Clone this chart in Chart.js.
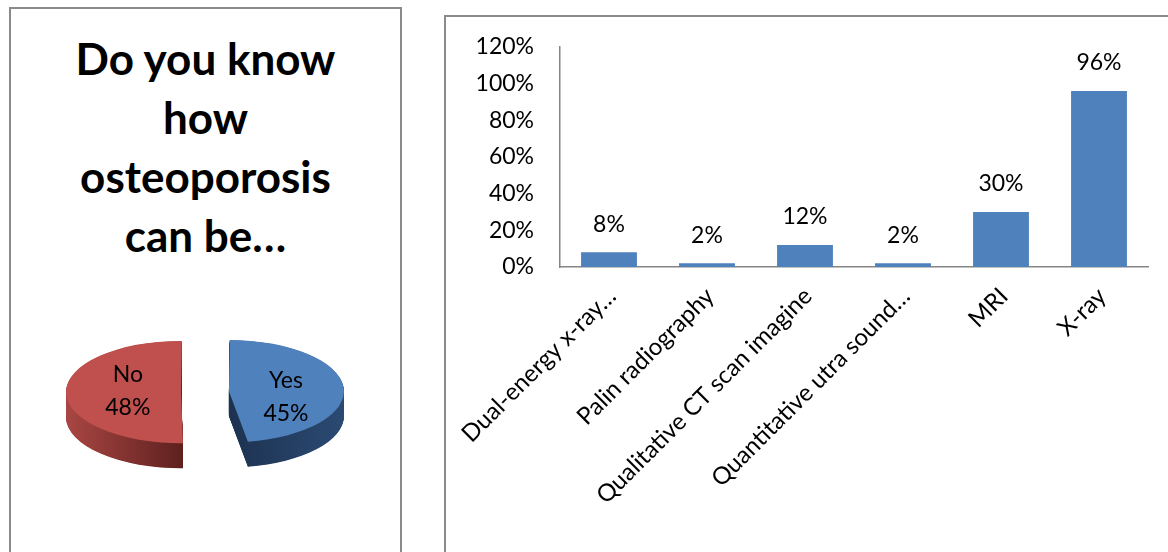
<!DOCTYPE html>
<html>
<head>
<meta charset="utf-8">
<script src="https://cdn.jsdelivr.net/npm/chart.js@4.4.1/dist/chart.umd.min.js"></script>
<style>
  html, body { margin: 0; padding: 0; background: #fff; width: 1168px; height: 552px; overflow: hidden; font-family: Lato, sans-serif; }
  .panel { position: absolute; border: 2px solid #8a8a8a; background: #fff; box-sizing: border-box; }
  #left { left: 9px; top: 7px; width: 393px; height: 620px; }
  #right { left: 444px; top: 15px; width: 800px; height: 620px; }
  #title { position: absolute; left: 9px; width: 393px; top: 29px; text-align: center; font-weight: 700; font-size: 44px; line-height: 59px; color: #000; }
  #pie { position: absolute; left: 10px; top: 262px; }
  #bar { position: absolute; left: 446px; top: 17px; }
</style>
</head>
<body>
<div class="panel" id="left"></div>
<div class="panel" id="right"></div>
<div id="title">Do you know<br>how<br>osteoporosis<br>can be…</div>
<canvas id="pie" width="390" height="260"></canvas>
<canvas id="bar" width="722" height="535"></canvas>
<script>
// Pie: answers to "Do you know how osteoporosis can be…" (%)
const pieLabels = ['No', 'Yes'];
const pieValues = [48, 45];

// Bars: diagnostic methods named by respondents (%)
const barCategories = [
  'Dual-energy x-ray…',
  'Palin radiography',
  'Qualitative CT scan imagine',
  'Quantitative utra sound…',
  'MRI',
  'X-ray'
];
const barValues = [8, 2, 12, 2, 30, 96];
const yTickMax = 120;
const yTickStep = 20;

const FONT = 'Lato, sans-serif';
const TILT = 0.445;   // vertical squash of the pie disc
const DEPTH = 25;     // thickness of the pie in pixels
const EXPLODE = 24;   // how far each slice is pulled out

const pieFill = ['#C0504D', '#4F81BD'];
const pieWall = [['#A94643', '#5F211F'], ['#1D3250', '#2B4A72']];

// the pie is drawn as an exploded, tilted disc with a visible rim
const pie3d = {
  id: 'pie3d',
  beforeDatasetDraw(chart, args) {
    const ctx = chart.ctx;
    const arcs = args.meta.data;
    const cx = arcs[0].x, cy = arcs[0].y;
    const shift = arcs.map(a => {
      const h = (a.startAngle + a.endAngle) / 2;
      return { dx: Math.cos(h) * EXPLODE, dy: Math.sin(h) * EXPLODE, h };
    });

    ctx.save();
    ctx.translate(cx, cy);
    ctx.scale(1, TILT);
    ctx.translate(-cx, -cy);

    // rims
    arcs.forEach((arc, i) => {
      const w = pieWall[i];
      const x = arc.x + shift[i].dx, y = arc.y + shift[i].dy, r = arc.outerRadius;
      const toRight = Math.cos(shift[i].h) > 0;
      const grad = toRight
        ? ctx.createLinearGradient(x, 0, x + r, 0)
        : ctx.createLinearGradient(x - r, 0, x, 0);
      grad.addColorStop(0, w[0]);
      grad.addColorStop(1, w[1]);
      ctx.fillStyle = grad;
      for (let d = DEPTH; d > 0; d -= 0.5) {
        const oy = y + d / TILT;
        ctx.beginPath();
        ctx.moveTo(x, oy);
        ctx.arc(x, oy, r, arc.startAngle, arc.endAngle);
        ctx.closePath();
        ctx.fill();
      }
    });

    // top faces
    arcs.forEach((arc, i) => {
      ctx.save();
      ctx.translate(shift[i].dx, shift[i].dy);
      arc.draw(ctx);
      ctx.restore();
    });
    ctx.restore();

    // labels: the slice on the right sits a little lower on the tilted disc
    ctx.save();
    ctx.font = '23px ' + FONT;
    ctx.fillStyle = '#000';
    ctx.textAlign = 'center';
    ctx.textBaseline = 'middle';
    arcs.forEach((arc, i) => {
      const h = shift[i].h;
      const right = Math.cos(h) > 0;
      const px = arc.x + shift[i].dx + Math.cos(h) * arc.outerRadius * 0.48 + 2;
      const py = cy + (shift[i].dy + Math.sin(h) * arc.outerRadius * 0.48) * TILT + (right ? 7 : -2);
      ctx.fillText(pieLabels[i], px, py - 16);
      ctx.fillText(pieValues[i] + '%', px, py + 17);
    });
    ctx.restore();
    return false;
  }
};

new Chart(document.getElementById('pie'), {
  type: 'pie',
  data: {
    labels: pieLabels,
    datasets: [{
      data: pieValues,
      backgroundColor: pieFill,
      borderWidth: 0
    }]
  },
  options: {
    responsive: false,
    animation: false,
    radius: 115,
    rotation: 179,
    circumference: 351.5,
    plugins: { legend: { display: false }, tooltip: { enabled: false } }
  },
  plugins: [pie3d]
});

// value labels above the bars
const barValueLabels = {
  id: 'barValueLabels',
  afterDatasetsDraw(chart) {
    const ctx = chart.ctx;
    const meta = chart.getDatasetMeta(0);
    ctx.save();
    ctx.font = '23px ' + FONT;
    ctx.fillStyle = '#000';
    ctx.textAlign = 'center';
    ctx.textBaseline = 'middle';
    meta.data.forEach((bar, i) => {
      ctx.fillText(barValues[i] + '%', bar.x, bar.y - 28);
    });
    ctx.restore();
  }
};

new Chart(document.getElementById('bar'), {
  type: 'bar',
  data: {
    labels: barCategories,
    datasets: [{
      data: barValues,
      backgroundColor: '#4F81BD',
      borderWidth: 0,
      barPercentage: 0.57,
      categoryPercentage: 1
    }]
  },
  options: {
    responsive: false,
    animation: false,
    layout: { padding: { top: 0, right: 20, left: 0, bottom: 0 } },
    scales: {
      y: {
        min: 0,
        max: yTickMax,
        ticks: {
          stepSize: yTickStep,
          padding: 26,
          color: '#000',
          font: { family: FONT, size: 23 },
          callback: v => v + '%'
        },
        grid: { display: false, drawTicks: false },
        border: { display: true, color: '#868686', width: 1.5 },
        afterFit(scale) {
          scale.width = 114;
          scale.paddingTop = 30;
          scale.paddingBottom = 14;
        }
      },
      x: {
        ticks: {
          minRotation: 45,
          maxRotation: 45,
          padding: 15,
          labelOffset: 3,
          color: '#000',
          font: { family: FONT, size: 24 },
          autoSkip: false
        },
        grid: { display: false, drawTicks: false },
        border: { display: true, color: '#868686', width: 1.5 },
        afterFit(scale) {
          scale.height = 285;
          scale.paddingLeft = 0;
          scale.paddingRight = 0;
        }
      }
    },
    plugins: { legend: { display: false }, tooltip: { enabled: false } }
  },
  plugins: [barValueLabels]
});
</script>
</body>
</html>
